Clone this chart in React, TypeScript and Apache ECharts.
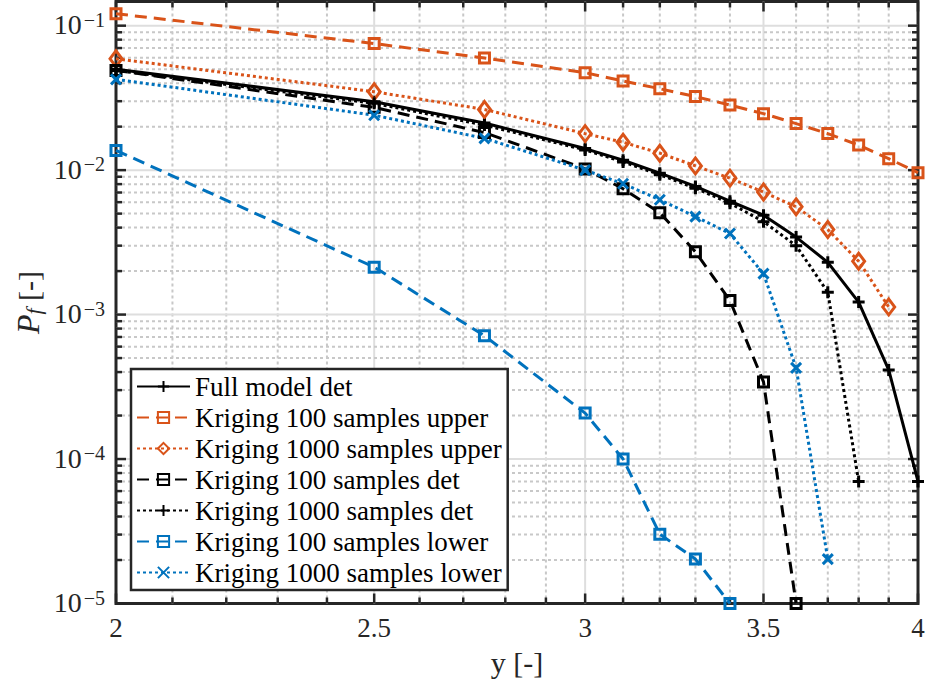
import React, { useEffect, useRef } from 'react';
import * as echarts from 'echarts';

// ---------- data ----------
const xFull = [2, 2.5, 2.75, 3, 3.1, 3.2, 3.3, 3.4, 3.5, 3.6, 3.7, 3.8, 3.9, 4];
const fullModelDet = [0.050, 0.0297, 0.0212, 0.0141, 0.0117, 0.00953, 0.00771, 0.00609, 0.00488, 0.00344, 0.0023, 0.00122, 0.000414, 0.00007];
const krig100Upper = [0.121, 0.0752, 0.0597, 0.0473, 0.0414, 0.0366, 0.0323, 0.0282, 0.0246, 0.021, 0.0179, 0.0149, 0.012, 0.0096];
const krig1000Upper = [0.059, 0.0349, 0.0263, 0.0179, 0.0156, 0.0131, 0.0107, 0.0088, 0.00705, 0.00557, 0.00388, 0.00234, 0.00113];
const krig100Det = [0.049, 0.0272, 0.0182, 0.0102, 0.00743, 0.00507, 0.00272, 0.00125, 0.000342, 0.00001];
const krig1000Det = [0.049, 0.029, 0.0205, 0.0138, 0.0114, 0.0093, 0.0075, 0.0059, 0.0044, 0.003, 0.00143, 0.00007];
const krig100Lower = [0.0137, 0.00213, 0.000714, 0.000208, 0.0001, 0.0000302, 0.0000203, 0.00001];
const krig1000Lower = [0.0425, 0.024, 0.0166, 0.01, 0.00805, 0.00624, 0.00477, 0.00364, 0.00192, 0.000428, 0.0000203];

const seriesNames = [
  'Full model det',
  'Kriging 100 samples upper',
  'Kriging 1000 samples upper',
  'Kriging 100 samples det',
  'Kriging 1000 samples det',
  'Kriging 100 samples lower',
  'Kriging 1000 samples lower',
];

const xMajorTicks = [2, 2.5, 3, 3.5, 4];
const xTickLabels = ['2', '2.5', '3', '3.5', '4'];
const xMinorTicks = [2.1, 2.2, 2.3, 2.4, 2.6, 2.7, 2.8, 2.9, 3.1, 3.2, 3.3, 3.4, 3.6, 3.7, 3.8, 3.9];
const yMajorTicks = [1e-5, 1e-4, 1e-3, 1e-2, 1e-1];
const yTickExponents = ['−5', '−4', '−3', '−2', '−1'];
const yMinorMantissas = [2, 3, 4, 5, 6, 7, 8, 9];
const yMinorDecades = [1e-5, 1e-4, 1e-3, 1e-2];

const X_MIN = 2;
const X_MAX = 4;
const Y_MIN = 1e-5;
const Y_MAX = 0.147;

// ---------- styles ----------
const FONT = 'Liberation Serif, serif';
const ORANGE = '#D95319';
const BLUE = '#0072BD';
const BLACK = '#000000';
const AXIS = '#262626';
const DASH = [12, 7];
const DOT = [3, 3];

const PLUS = 'path://M5,0L5,10M0,5L10,5';
const CROSS = 'path://M0,0L10,10M10,0L0,10';

function lineSeries(name: string, ys: number[], color: string, type: any, symbol: string, symbolSize: any) {
  return {
    name,
    type: 'line',
    data: ys.map((y, i) => [xFull[i], y]),
    color,
    symbol,
    symbolSize,
    showSymbol: true,
    symbolKeepAspect: false,
    lineStyle: { color, width: 3, type },
    itemStyle: { color: 'rgba(255,255,255,0)', borderColor: color, borderWidth: 3 },
    emphasis: { disabled: true },
    z: 3,
  };
}

export default function App() {
  const ref = useRef<HTMLDivElement>(null);

  useEffect(() => {
    const chart = echarts.init(ref.current!, null, { renderer: 'svg' });

    const tickData: number[][] = [
      ...xMajorTicks.map((v, i) => [v, 1e-3, 0, i]),
      ...xMinorTicks.map((v) => [v, 1e-3, 1, -1]),
      ...yMajorTicks.map((v, i) => [3, v, 2, i]),
    ];
    yMinorDecades.forEach((d) => yMinorMantissas.forEach((m) => tickData.push([3, m * d, 3, -1])));

    const majorGrid = { stroke: '#dedede', lineWidth: 2 };
    const minorGrid = { stroke: '#c8c8c8', lineWidth: 2, lineDash: [3, 3] };
    const tickStyle = { stroke: AXIS, lineWidth: 2.5 };

    const option: any = {
      animation: false,
      backgroundColor: '#ffffff',
      textStyle: { fontFamily: FONT },
      grid: {
        left: 116,
        right: 9,
        top: 1.5,
        bottom: 86.5,
        show: true,
        borderColor: AXIS,
        borderWidth: 3,
        backgroundColor: '#ffffff',
        containLabel: false,
        outerBoundsMode: 'none',
      },
      xAxis: {
        type: 'log',
        logBase: 10,
        min: X_MIN,
        max: X_MAX,
        axisLine: { show: false },
        axisTick: { show: false },
        axisLabel: { show: false },
        splitLine: { show: false },
        minorTick: { show: false },
        name: 'y [-]',
        nameLocation: 'middle',
        nameGap: 44,
        nameTextStyle: { fontFamily: FONT, fontSize: 30, color: AXIS },
      },
      yAxis: {
        type: 'log',
        logBase: 10,
        min: Y_MIN,
        max: Y_MAX,
        axisLine: { show: false },
        axisTick: { show: false },
        axisLabel: { show: false },
        splitLine: { show: false },
        minorTick: { show: false },
        name: '{i|P}{f|f} [-]',
        nameLocation: 'middle',
        nameRotate: 90,
        nameGap: 72,
        nameTextStyle: {
          fontFamily: FONT,
          fontSize: 30,
          color: AXIS,
          rich: {
            i: { fontFamily: FONT, fontSize: 32, fontStyle: 'italic', color: AXIS },
            f: { fontFamily: FONT, fontSize: 22, fontStyle: 'italic', color: AXIS, verticalAlign: 'bottom', lineHeight: 16 },
          },
        },
      },
      legend: {
        orient: 'vertical',
        left: 131,
        top: 369,
        padding: [4, 6, 4, 5],
        itemGap: 4,
        itemWidth: 53,
        itemHeight: 14,
        backgroundColor: '#ffffff',
        borderColor: AXIS,
        borderWidth: 2.5,
        borderRadius: 0,
        selectedMode: false,
        textStyle: { fontFamily: FONT, fontSize: 27, color: '#000', lineHeight: 27 },
        data: seriesNames,
        z: 10,
      },
      series: [
        {
          type: 'custom',
          name: 'axes',
          silent: true,
          z: 1,
          clip: false,
          data: tickData,
          renderItem: (params: any, api: any) => {
            const cs = params.coordSys;
            const L = cs.x;
            const T = cs.y;
            const R = cs.x + cs.width;
            const B = cs.y + cs.height;
            const kind = api.value(2);
            const idx = api.value(3);
            const children: any[] = [];
            if (kind <= 1) {
              const x = api.coord([api.value(0), 1e-3])[0];
              const major = kind === 0;
              const len = major ? 10 : 6;
              if (x > L + 2 && x < R - 2) {
                children.push({ type: 'line', shape: { x1: x, y1: T, x2: x, y2: B }, style: major ? majorGrid : minorGrid });
              }
              children.push({ type: 'line', shape: { x1: x, y1: B, x2: x, y2: B - len }, style: tickStyle });
              children.push({ type: 'line', shape: { x1: x, y1: T, x2: x, y2: T + len }, style: tickStyle });
              if (major) {
                children.push({
                  type: 'text',
                  x,
                  y: B + 24,
                  style: { text: xTickLabels[idx], fontFamily: FONT, fontSize: 27, fill: AXIS, align: 'center', verticalAlign: 'middle' },
                });
              }
            } else {
              const y = api.coord([3, api.value(1)])[1];
              const major = kind === 2;
              const len = major ? 10 : 6;
              if (y > T + 2 && y < B - 2) {
                children.push({ type: 'line', shape: { x1: L, y1: y, x2: R, y2: y }, style: major ? majorGrid : minorGrid });
              }
              children.push({ type: 'line', shape: { x1: L, y1: y, x2: L + len, y2: y }, style: tickStyle });
              children.push({ type: 'line', shape: { x1: R, y1: y, x2: R - len, y2: y }, style: tickStyle });
              if (major) {
                children.push({
                  type: 'text',
                  x: L - 11,
                  y: y - 1,
                  style: {
                    text: '{b|10}{s|' + yTickExponents[idx] + '}',
                    align: 'right',
                    verticalAlign: 'middle',
                    fill: AXIS,
                    fontFamily: FONT,
                    rich: {
                      b: { fontFamily: FONT, fontSize: 28, lineHeight: 30, fill: AXIS },
                      s: { fontFamily: FONT, fontSize: 20, lineHeight: 14, verticalAlign: 'top', fill: AXIS, padding: [0, 0, 0, 2] },
                    },
                  },
                });
              }
            }
            return { type: 'group', children };
          },
        },
        lineSeries(seriesNames[0], fullModelDet, BLACK, 'solid', PLUS, 12),
        lineSeries(seriesNames[1], krig100Upper, ORANGE, DASH, 'rect', 10),
        lineSeries(seriesNames[2], krig1000Upper, ORANGE, DOT, 'diamond', [12, 16]),
        lineSeries(seriesNames[3], krig100Det, BLACK, DASH, 'rect', 10),
        lineSeries(seriesNames[4], krig1000Det, BLACK, DOT, PLUS, 12),
        lineSeries(seriesNames[5], krig100Lower, BLUE, DASH, 'rect', 10),
        lineSeries(seriesNames[6], krig1000Lower, BLUE, DOT, CROSS, 10),
      ],
    };

    chart.setOption(option);
    return () => chart.dispose();
  }, []);

  return (
    <div
      ref={ref}
      style={{ position: 'fixed', left: 0, top: 0, width: 927, height: 690, background: '#fff' }}
    />
  );
}
